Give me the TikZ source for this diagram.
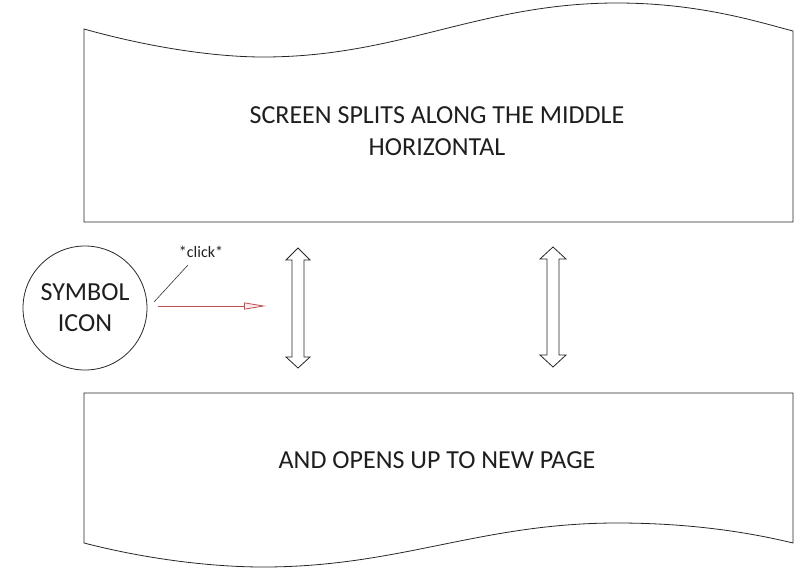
\documentclass[tikz,border=0pt]{standalone}
\usepackage{fontspec}
\setmainfont{Carlito}
\usetikzlibrary{arrows.meta}
\definecolor{txt}{RGB}{30,30,30}
\definecolor{redline}{RGB}{192,80,77}
\tikzset{
  outline/.style={draw=black!85, line width=0.8pt},
  bigtext/.style={text=txt, font=\fontsize{26}{32}\selectfont, align=center},
  dblarrow/.style={draw=black!85, line width=0.8pt, fill=white},
}
\begin{document}
\begin{tikzpicture}[x=1pt,y=-1pt]
\useasboundingbox (0,0) rectangle (808,576);
% top page
\draw[outline] (84,222) -- (84,29)
  .. controls (150,47.5) and (215,57) .. (263,57)
  .. controls (400,57) and (480,3) .. (617,3)
  .. controls (700,3) and (760,22.5) .. (793,31)
  -- (793,222) -- cycle;
\node[bigtext] (toptext) at (437,131) {SCREEN SPLITS ALONG THE MIDDLE\\HORIZONTAL};
% bottom page
\draw[outline] (84,393) -- (793,393) -- (793,543)
  .. controls (760,535) and (700,523) .. (617,523)
  .. controls (480,523) and (400,567) .. (263,567)
  .. controls (215,567) and (150,560) .. (84,543)
  -- cycle;
\node[bigtext] (bottext) at (437,460) {AND OPENS UP TO NEW PAGE};
% symbol icon
\node[outline, circle, minimum size=124pt, inner sep=0pt, text=txt,
  font=\fontsize{26}{31}\selectfont, align=center] (icon) at (85,308) {SYMBOL\\ICON};
\node[text=txt, font=\fontsize{16}{18}\selectfont] (click) at (201,252) {*click*};
\coordinate (clickA) at (154,302);
\coordinate (clickB) at (188,265);
\draw[black!80, line width=0.6pt] (clickA) -- (clickB);
\coordinate (redend) at (266,306);
\draw[redline, line width=0.8pt, -{Triangle[open, length=22pt, width=7pt, fill=red!8]}] (158,306) -- (redend);
% double arrows
\draw[dblarrow] (298,248) -- (310,260) -- (304,260) -- (304,357) -- (310,357) -- (298,368)
  -- (286,357) -- (292,357) -- (292,260) -- (286,260) -- cycle;
\draw[dblarrow] (553,247) -- (566,259) -- (559,259) -- (559,355) -- (566,355) -- (553,367)
  -- (540,355) -- (547,355) -- (547,259) -- (540,259) -- cycle;
\end{tikzpicture}
\end{document}
